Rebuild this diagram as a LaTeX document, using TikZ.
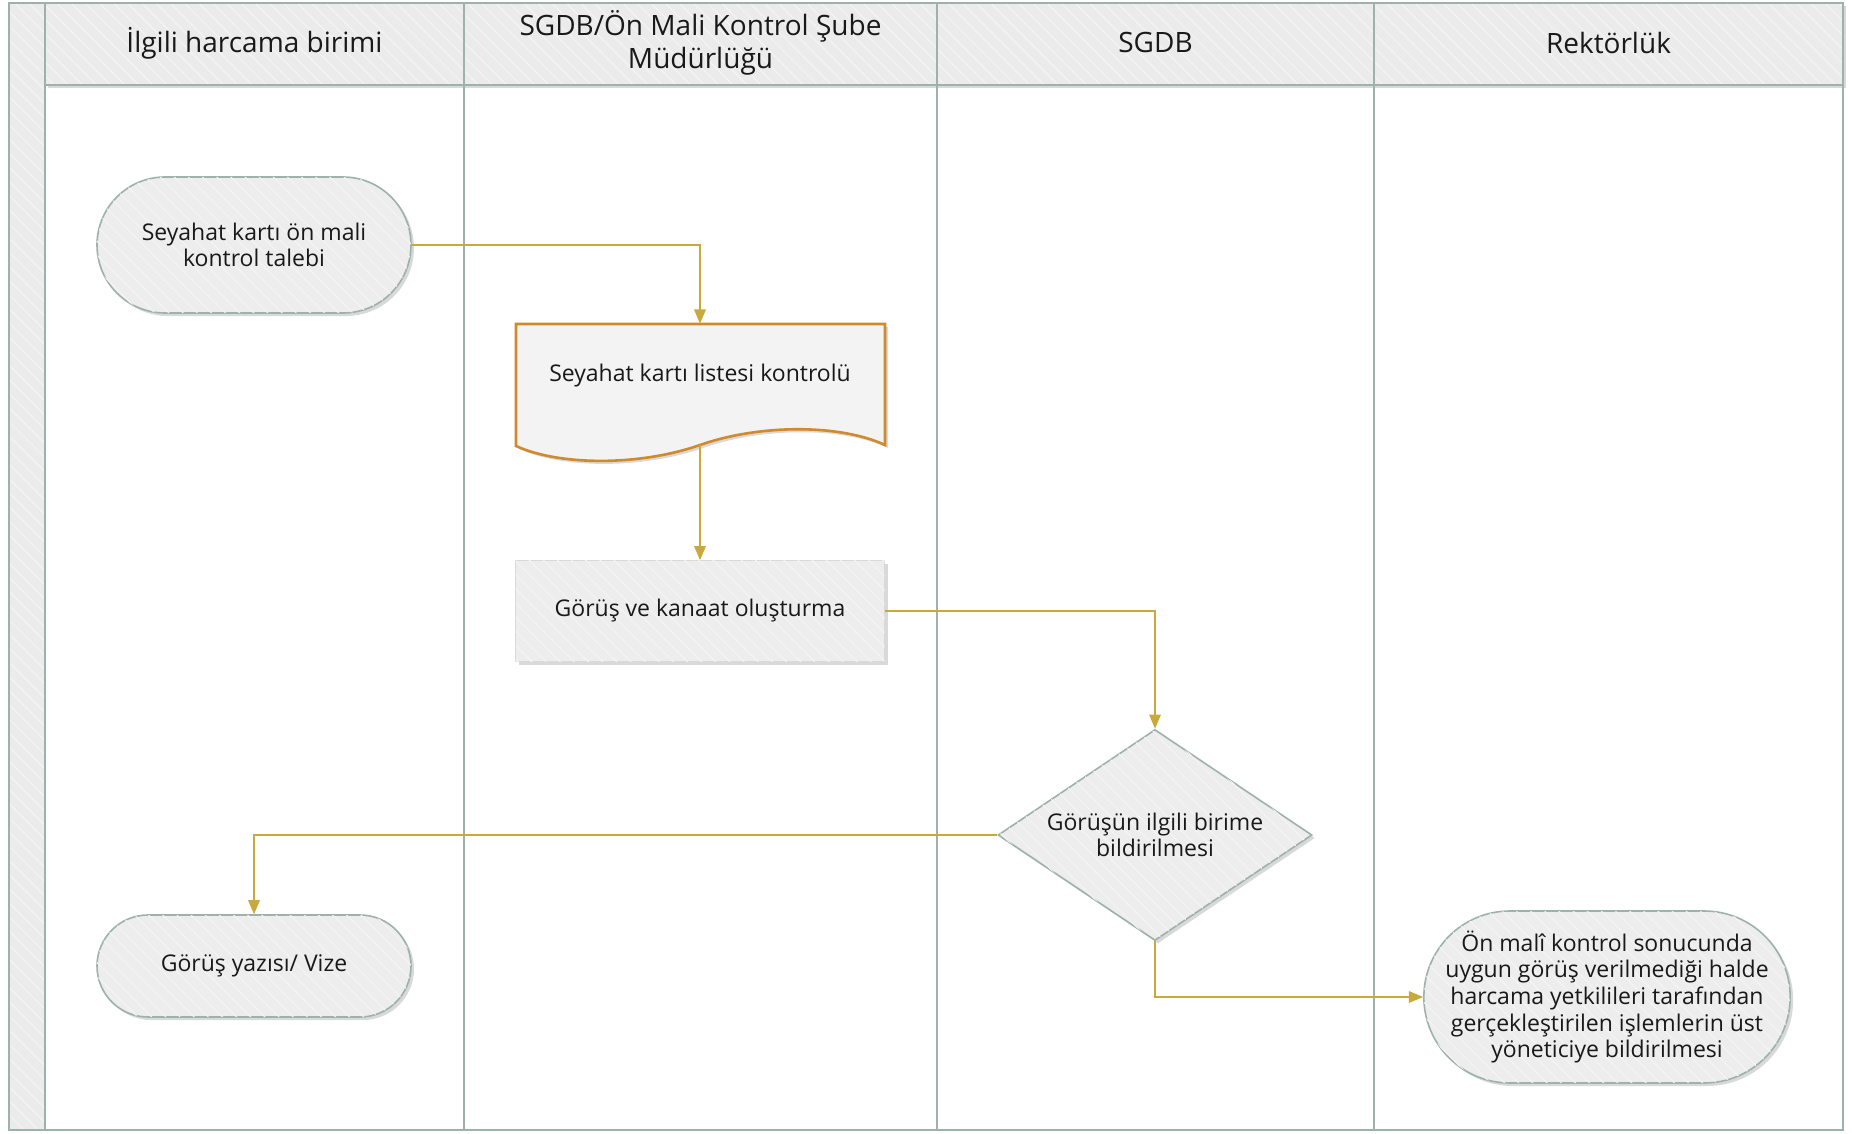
\documentclass[tikz,border=0pt]{standalone}
\usepackage{fontspec}
\setmainfont{Open Sans}
\usetikzlibrary{arrows,shapes,shadows,patterns.meta}

\definecolor{lanegray}{HTML}{9EB2AA}
\definecolor{headfill}{HTML}{EBEBEB}
\definecolor{boxfill}{HTML}{EDEDED}
\definecolor{hatch}{HTML}{F5F5F5}
\definecolor{docline}{HTML}{D08A2C}
\definecolor{flowline}{HTML}{C9A93C}

\begin{document}
\begin{tikzpicture}[x=0.5pt,y=-0.5pt]
  \tikzstyle{lane}=[draw=lanegray,line width=1pt]
  \tikzstyle{hatched}=[postaction={pattern={Lines[angle=-45,distance=5pt,line width=0.5pt]},pattern color=hatch}]
  \tikzstyle{shade}=[drop shadow={shadow xshift=1.5pt,shadow yshift=-1.5pt,opacity=0.25,fill=black!60}]
  \tikzstyle{header}=[font=\fontsize{14}{16.5}\selectfont,align=center,text=black!90]
  \tikzstyle{body}=[font=\fontsize{11.5}{13.3}\selectfont,align=center,text=black!90]
  \tikzstyle{term}=[body,rounded rectangle,draw=lanegray,line width=0.8pt,fill=boxfill,shade,hatched,inner sep=0pt]
  \tikzstyle{flow}=[draw=flowline,line width=0.6pt,-triangle 45]

  \useasboundingbox (0,0) rectangle (1852,1134);

  % pool and lanes
  \fill[headfill,hatched] (9,3) rectangle (45,1130);
  \foreach \name/\xa/\xb/\txt in {1/45/464/{İlgili harcama birimi},
      2/464/937/{SGDB/Ön Mali Kontrol Şube\\Müdürlüğü},
      3/937/1374/{SGDB}, 4/1374/1843/{Rektörlük}}
    {
      \fill[headfill,shade,hatched] (\xa,3) rectangle (\xb,85);
      \node[header] (H-\name) at ({(\xa+\xb)/2},43) {\txt};
    }
  \draw[lane] (9,3) rectangle (1843,1130);
  \draw[lane] (45,85) -- (1843,85);
  \foreach \x in {45,464,937,1374}
    \draw[lane] (\x,3) -- (\x,1130);

  % steps
  \node[term,minimum width=157pt,minimum height=68pt] (req) at (254,245)
    {Seyahat kartı ön mali\\kontrol talebi};

  \draw[draw=docline,line width=1.3pt,fill=headfill!60!white,shade]
    (516,324) -- (885,324) -- (885,445)
    .. controls (840,424) and (760,424) .. (700,445)
    .. controls (640,466) and (560,466) .. (516,446) -- cycle;
  \node[body,minimum width=184.5pt,minimum height=52pt] (doc) at (700,376)
    {Seyahat kartı listesi kontrolü};
  \coordinate (docb) at (700,445);

  \node[body,draw=black!15,fill=boxfill,shade,hatched,minimum width=184.5pt,
    minimum height=50.5pt] (proc) at (700,611) {Görüş ve kanaat oluşturma};

  \node[body,diamond,aspect=1.49,draw=lanegray,line width=0.8pt,fill=boxfill,
    shade,hatched,inner sep=0pt,minimum width=157pt,minimum height=105.5pt]
    (dec) at (1155,835) {Görüşün ilgili birime\\bildirilmesi};

  \node[term,minimum width=157pt,minimum height=51pt] (visa) at (254,966)
    {Görüş yazısı/ Vize};

  \node[term,inner xsep=-4.8pt,minimum height=86pt] (notify) at (1607,997)
    {Ön malî kontrol sonucunda\\uygun görüş verilmediği halde\\harcama yetkilileri tarafından\\gerçekleştirilen işlemlerin üst\\yöneticiye bildirilmesi};

  % connectors
  \draw[flow] (req.east) -| (doc.north);
  \draw[flow] (docb) -- (proc.north);
  \draw[flow] (proc.east) -| (dec.north);
  \draw[flow] (dec.west) -| (visa.north);
  \draw[flow] (dec.south) |- (notify.west);
\end{tikzpicture}
\end{document}
